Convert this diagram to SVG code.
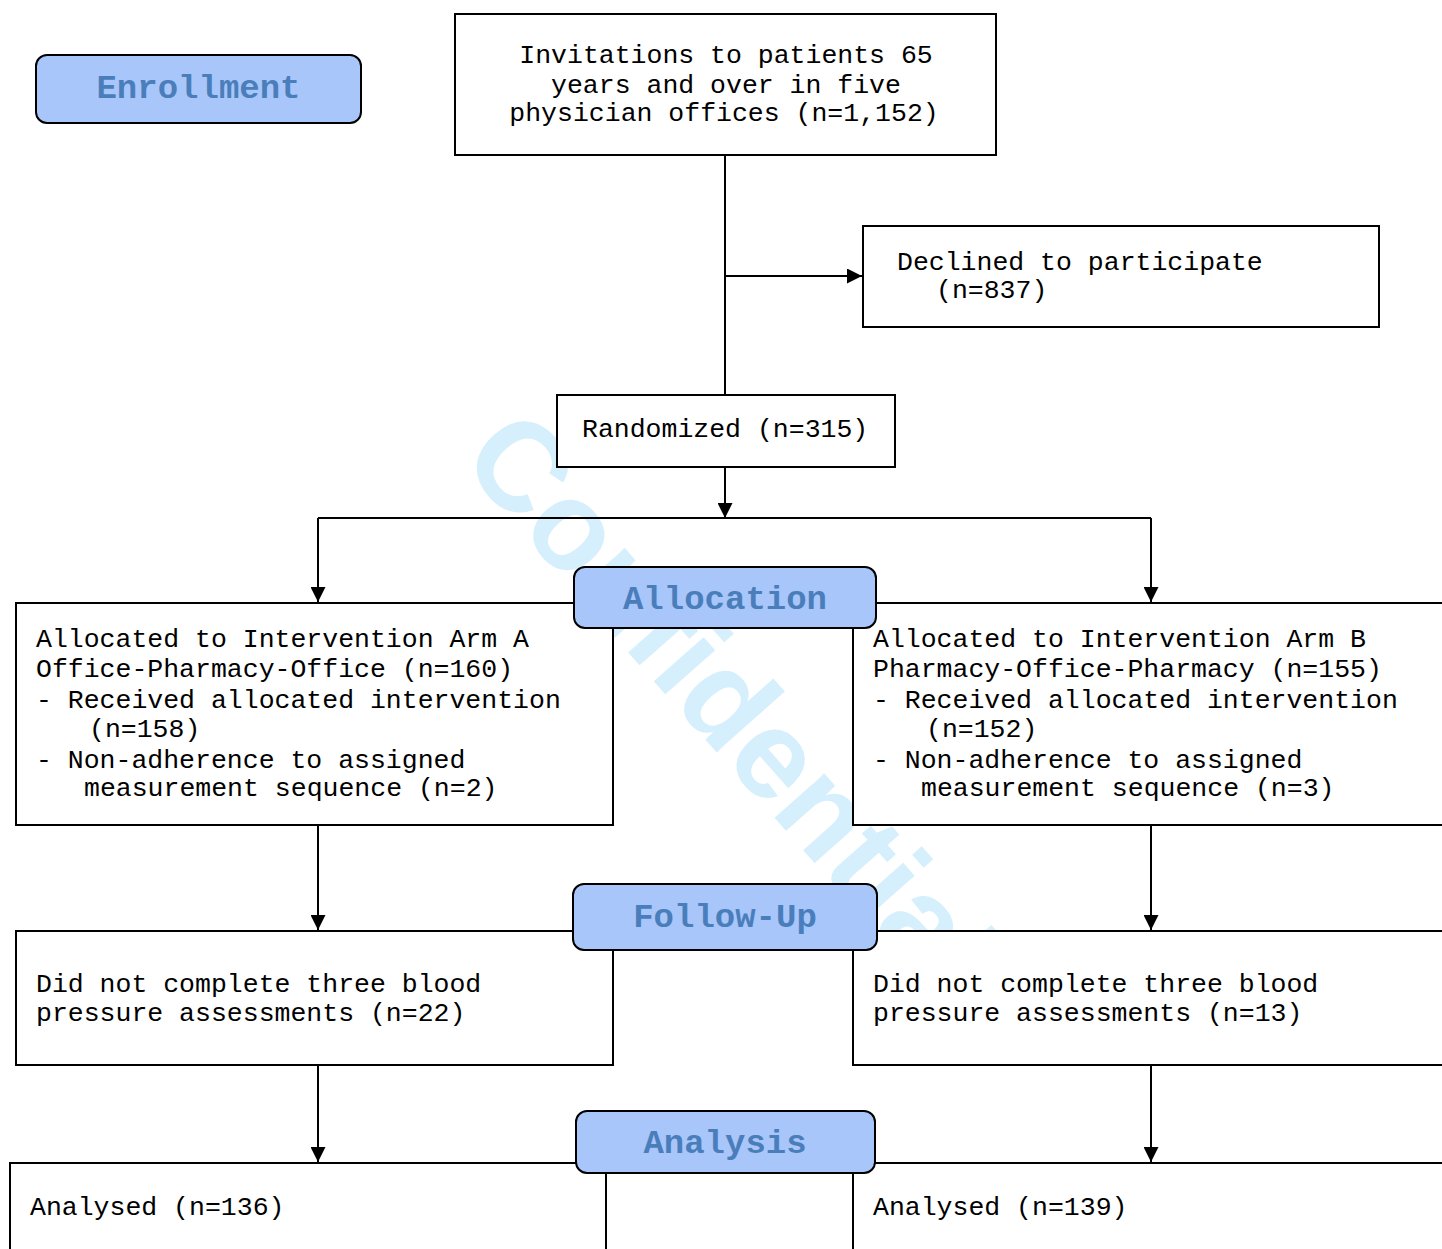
<svg xmlns="http://www.w3.org/2000/svg" width="1442" height="1249" viewBox="0 0 1442 1249">
<style>
.box{fill:#ffffff;stroke:#000000;stroke-width:2}
.phase{fill:#a8c6fa;stroke:#000000;stroke-width:2}
.t{font-family:"Liberation Mono","Courier New",monospace;font-size:26.5px;fill:#000000}
.pt{font-family:"Liberation Mono","Courier New",monospace;font-size:34px;font-weight:bold;fill:#4a7ebb;text-anchor:middle}
.wm{font-family:"Liberation Sans",Arial,sans-serif;font-size:126px;font-weight:bold;fill:#d6effc}
.ln{fill:none;stroke:#000000;stroke-width:2}
</style>
<defs>
<marker id="arr" viewBox="0 0 15 15" refX="15" refY="7.5" markerWidth="15" markerHeight="15" markerUnits="userSpaceOnUse" orient="auto">
<path d="M0,0 L15,7.5 L0,15 Z" fill="#000000"/>
</marker>
</defs>
<rect width="1442" height="1249" fill="#ffffff"/>
<text class="wm" x="458" y="460" transform="rotate(48.5 458 460)">Confidential</text>
<g id="connectors">
<path class="ln" d="M725,155 V395"/>
<path class="ln" d="M725,276 H862" marker-end="url(#arr)"/>
<path class="ln" d="M725,467 V518" marker-end="url(#arr)"/>
<path class="ln" d="M318,518 H1151"/>
<path class="ln" d="M318,518 V602" marker-end="url(#arr)"/>
<path class="ln" d="M1151,518 V602" marker-end="url(#arr)"/>
<path class="ln" d="M318,825 V930" marker-end="url(#arr)"/>
<path class="ln" d="M1151,825 V930" marker-end="url(#arr)"/>
<path class="ln" d="M318,1065 V1162" marker-end="url(#arr)"/>
<path class="ln" d="M1151,1065 V1162" marker-end="url(#arr)"/>
</g>
<g id="invitations">
<rect class="box" x="455" y="14" width="541" height="141"/>
<text class="t" x="726" y="63" text-anchor="middle">Invitations to patients 65</text>
<text class="t" x="726" y="93" text-anchor="middle">years and over in five</text>
<text class="t" x="724" y="121" text-anchor="middle">physician offices (n=1,152)</text>
</g>
<g id="declined">
<rect class="box" x="863" y="226" width="516" height="101"/>
<text class="t" x="897" y="270">Declined to participate</text>
<text class="t" x="936" y="298">(n=837)</text>
</g>
<g id="randomized">
<rect class="box" x="557" y="395" width="338" height="72"/>
<text class="t" x="582" y="437">Randomized (n=315)</text>
</g>
<g id="armA">
<rect class="box" x="16" y="603" width="597" height="222"/>
<text class="t" x="36" y="647">Allocated to Intervention Arm A</text>
<text class="t" x="36" y="677">Office-Pharmacy-Office (n=160)</text>
<text class="t" x="36" y="708">- Received allocated intervention</text>
<text class="t" x="89" y="737">(n=158)</text>
<text class="t" x="36" y="768">- Non-adherence to assigned</text>
<text class="t" x="84" y="796">measurement sequence (n=2)</text>
</g>
<g id="armB">
<rect class="box" x="853" y="603" width="600" height="222"/>
<text class="t" x="873" y="647">Allocated to Intervention Arm B</text>
<text class="t" x="873" y="677">Pharmacy-Office-Pharmacy (n=155)</text>
<text class="t" x="873" y="708">- Received allocated intervention</text>
<text class="t" x="926" y="737">(n=152)</text>
<text class="t" x="873" y="768">- Non-adherence to assigned</text>
<text class="t" x="921" y="796">measurement sequence (n=3)</text>
</g>
<g id="followA">
<rect class="box" x="16" y="931" width="597" height="134"/>
<text class="t" x="36" y="992">Did not complete three blood</text>
<text class="t" x="36" y="1021">pressure assessments (n=22)</text>
</g>
<g id="followB">
<rect class="box" x="853" y="931" width="600" height="134"/>
<text class="t" x="873" y="992">Did not complete three blood</text>
<text class="t" x="873" y="1021">pressure assessments (n=13)</text>
</g>
<g id="analysedA">
<rect class="box" x="10" y="1163" width="596" height="100"/>
<text class="t" x="30" y="1215">Analysed (n=136)</text>
</g>
<g id="analysedB">
<rect class="box" x="853" y="1163" width="600" height="100"/>
<text class="t" x="873" y="1215">Analysed (n=139)</text>
</g>
<g id="enrollment">
<rect class="phase" x="36" y="55" width="325" height="68" rx="11"/>
<text class="pt" x="198.5" y="98">Enrollment</text>
</g>
<g id="allocation">
<rect class="phase" x="574" y="567" width="302" height="61" rx="11"/>
<text class="pt" x="725" y="609">Allocation</text>
</g>
<g id="followup">
<rect class="phase" x="573" y="884" width="304" height="66" rx="11"/>
<text class="pt" x="725" y="927">Follow-Up</text>
</g>
<g id="analysis">
<rect class="phase" x="576" y="1111" width="299" height="62" rx="11"/>
<text class="pt" x="725" y="1153">Analysis</text>
</g>
</svg>
